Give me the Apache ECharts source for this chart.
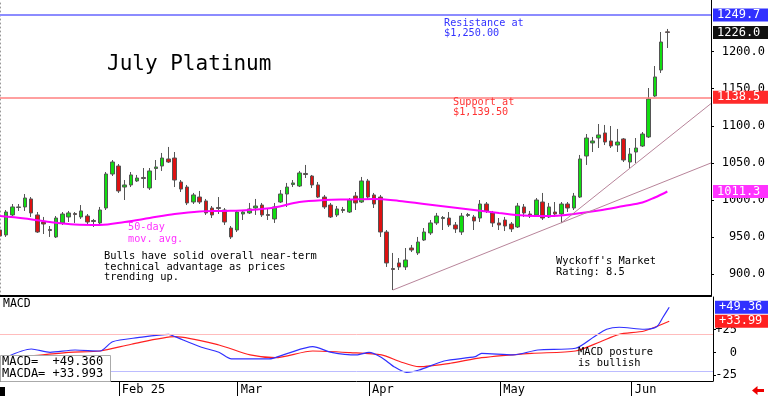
<!DOCTYPE html>
<html><head><meta charset="utf-8">
<script src="https://cdn.jsdelivr.net/npm/echarts@6/dist/echarts.min.js"></script>
<style>html,body{margin:0;padding:0;background:#fff}#c{width:768px;height:396px}</style>
</head><body><div id="c"></div>
<script>
// ---- data ----
const opens = [959.3,952.6,979.6,989.7,990.4,1001.2,979.6,970.1,960.0,949.9,968.8,976.9,981.6,976.9,978.2,972.1,968.8,989.0,1034.9,1045.7,
1017.3,1020.1,1025.5,1030.2,1016.0,1042.3,1045.7,1055.2,1056.5,1024.1,1017.3,997.1,1003.8,998.5,989.0,989.7,986.3,962.0,959.3,980.9,
982.3,989.0,993.0,980.2,974.2,997.1,1007.9,1020.7,1018.7,1035.6,1032.2,1020.1,1003.8,993.0,979.6,987.0,983.6,1005.2,997.1,1025.5,
1006.6,1003.8,956.6,907.3,914.8,909.4,935.0,928.3,945.8,955.3,968.8,974.8,975.5,966.1,956.6,978.9,976.9,975.5,994.4,982.3,
968.8,972.8,967.4,963.4,990.4,980.9,979.6,997.1,976.9,983.6,980.9,994.4,989.0,1003.8,1059.2,1076.8,1083.5,1090.3,1079.5,1074.0,
1082.2,1051.1,1064.6,1072.7,1084.9,1140.2,1175.3,1226.8];
const closes = [951.2,983.6,990.4,990.4,1002.5,982.3,956.6,967.4,958.6,975.5,980.9,982.3,980.2,985.0,970.1,970.8,986.3,1034.9,1051.1,1012.0,
1020.1,1033.6,1029.5,1028.8,1039.0,1044.4,1056.5,1051.1,1026.8,1014.6,995.8,1006.6,997.1,982.3,979.6,988.3,970.1,949.9,983.6,983.6,
987.7,991.7,979.6,978.9,990.4,1007.9,1017.3,1022.8,1036.3,1034.2,1020.1,1003.8,990.4,976.9,987.7,985.6,999.8,995.8,1025.5,1003.8,
994.4,956.6,914.8,906.0,909.4,918.8,932.3,943.1,956.6,968.8,978.2,976.2,966.1,960.7,978.2,980.2,971.5,994.4,985.0,968.8,
966.1,964.7,960.7,991.7,982.3,978.2,999.8,975.5,990.4,980.9,994.4,989.0,1005.2,1055.2,1083.5,1079.5,1087.6,1078.1,1072.7,1078.1,
1053.8,1061.9,1070.0,1088.9,1136.2,1165.9,1213.1,1226.0];
const lows = [948.5,949.9,978.2,985.0,985.0,976.9,955.3,953.9,949.9,948.5,966.1,970.1,968.8,974.2,967.4,963.4,966.1,986.3,1032.2,1009.3,
999.8,1017.3,1024.1,1016.0,1013.3,1026.8,1039.0,1049.8,1017.3,1010.6,993.0,994.4,994.4,979.6,975.5,980.9,966.1,947.2,956.6,972.8,
980.9,979.6,976.9,972.8,968.8,995.8,990.4,1017.3,1017.3,1029.5,1016.0,1002.5,987.7,975.5,976.9,982.3,982.3,986.3,995.8,1001.2,
989.0,949.9,909.4,878.3,905.3,905.3,929.6,925.6,944.5,952.6,966.1,959.3,963.4,955.3,952.6,976.9,959.3,970.1,982.3,963.4,
959.3,957.9,956.6,962.0,976.9,975.5,976.9,972.8,975.5,976.9,968.8,983.6,986.3,1002.5,1047.1,1064.6,1070.0,1074.0,1070.0,1064.6,
1051.1,1043.0,1049.8,1071.4,1083.5,1138.9,1171.3,1205.0];
const highs = [970.1,986.3,994.4,994.4,1007.9,1003.8,983.6,976.9,964.7,978.2,983.6,985.0,983.6,993.0,980.9,974.2,990.4,1037.6,1053.8,1048.4,
1026.8,1037.6,1033.6,1043.0,1043.0,1053.8,1063.3,1071.4,1064.6,1026.8,1020.1,1009.3,1012.0,1001.2,991.7,1003.8,989.0,964.7,986.3,986.3,
995.8,1001.2,995.8,989.0,995.8,1013.3,1022.8,1026.8,1039.0,1047.1,1033.6,1024.1,1006.6,995.8,991.7,990.4,1002.5,1010.6,1030.9,1028.2,
1009.3,1006.6,959.3,928.3,921.5,935.0,939.1,949.9,962.0,972.8,982.3,978.2,983.6,970.1,982.3,982.3,979.6,999.8,997.1,985.0,
975.5,976.9,970.1,995.8,994.4,985.0,1002.5,1009.3,995.8,997.1,997.1,997.1,1009.3,1060.6,1088.9,1084.9,1102.4,1101.1,1099.7,1095.7,
1083.5,1070.0,1083.5,1091.6,1151.0,1180.7,1226.6,1230.7];

// 50-day moving average, read at sampled candle positions
const maIdx = [0,4,8,12,16,20,24,28,32,36,40,44,48,52,56,60,64,68,72,76,80,84,88,92,96,100,103,105,107];
const maVal = [978.2,974.8,970.1,966.7,966.1,970.1,975.5,980.9,984.3,985.0,986.3,989.7,997.1,999.8,1000.5,1001.2,998.5,994.4,990.4,986.3,
982.3,978.9,978.2,980.9,985.6,991.7,996.4,1003.2,1011.3];

// MACD (blue) and signal MACDA (red), read at sampled positions
const macdIdx = [1,5,8,12,16,18,22,27,28,32,35,37,43,46,50,53,57,59,61,63,65,67,71,76,77,82,86,92,95,97,99,103,105,106,107];
const macdVal = [-5,3.7,0.1,2.6,1.5,11.7,16.1,19.8,17.2,6.2,0.1,-7.2,-7.2,-1,6.2,0.1,-2.8,0.1,-5.5,-15.6,-21.8,-19.3,-9.4,-4.7,-1,-2.8,2.6,4.5,17.2,25.3,27.5,25.3,28.1,38.5,49.36];
const sigIdx = [2,5,11,16,21,28,35,40,44,50,56,61,64,67,72,77,85,92,96,99,103,107];
const sigVal = [-4.7,-3.9,0.1,1.5,8.9,17.2,8.1,-2.8,-5.8,1.5,-0.3,-2.8,-10.2,-15.6,-11.9,-5.8,-1,1.5,11.7,19.8,23.4,33.99];

const trendA = [[63,878.3],[114,1049.8]];
const trendB = [[90,968.8],[114,1130.0]];

const resistance = 1249.7, support = 1138.5, lastClose = 1226.0, maLast = 1011.3;
const macdLast = 49.36, sigLast = 33.99, macdUpper = 20, macdLower = -21;
const macdLegend = '+49.360', sigLegend = '+33.993';

const yTicks = [900,950,1000,1050,1100,1150,1200];
const macdTicks = [-25,0,25];
const tickDates = ['2025-02-03','2025-03-03','2025-04-01','2025-05-01','2025-06-02'];
const tickLabels = ['Feb 25','Mar','Apr','May','Jun'];
const holidays = ['2025-01-20','2025-02-17','2025-04-18','2025-05-26','2025-06-19'];
const firstDay = '2025-01-06';
const totalSlots = 115;

// trading-day categories
const cats = [];
{
  const d = new Date(firstDay + 'T00:00:00Z');
  while (cats.length < totalSlots) {
    const s = d.toISOString().slice(0,10);
    const wd = d.getUTCDay();
    if (wd !== 0 && wd !== 6 && holidays.indexOf(s) < 0) cats.push(s);
    d.setUTCDate(d.getUTCDate() + 1);
  }
}
const candles = opens.map((o,i)=>[o, closes[i], lows[i], highs[i]]);
const pair = (xs, vs) => xs.map((x,i)=>[x, vs[i]]);

const MONO = '"DejaVu Sans Mono", monospace';
const HIDDEN = {color:'rgba(0,0,0,0)', width:1};
function boxLabel(bg, fmt){
  return {show:true, position:'end', distance:2, formatter:fmt, color:'#fff', backgroundColor:bg,
    padding:[1,8,0,4], fontFamily:MONO, fontSize:12};
}

const chart = echarts.init(document.getElementById('c'), null, {renderer:'canvas'});
const isTick = (idx, val) => tickDates.indexOf(val) >= 0;

chart.setOption({
  animation:false,
  backgroundColor:'#fff',
  grid:[
    {left:0, right:55, top:0, height:296},
    {left:0, right:55, top:297, height:84}
  ],
  xAxis:[
    {gridIndex:0, type:'category', data:cats, boundaryGap:false,
      axisLine:{show:true, onZero:false, lineStyle:{color:'#000', width:2}}, axisTick:{show:false}, axisLabel:{show:false}, splitLine:{show:false}},
    {gridIndex:1, type:'category', data:cats, boundaryGap:false,
      axisLine:{show:true, onZero:false, lineStyle:{color:'#000', width:1}},
      axisTick:{show:true, interval:isTick, length:15, lineStyle:{color:'#000'}},
      axisLabel:{show:true, interval:isTick, formatter:v=>tickLabels[tickDates.indexOf(v)], align:'left',
        padding:[0,0,0,3], margin:3, color:'#000', fontFamily:MONO, fontSize:12},
      splitLine:{show:false}}
  ],
  yAxis:[
    {gridIndex:0, type:'value', position:'right', min:870.2, max:1269.8, scale:true,
      axisLine:{show:true, lineStyle:{color:'#000'}},
      axisTick:{show:true, customValues:yTicks, length:3, lineStyle:{color:'#000'}},
      axisLabel:{show:true, customValues:yTicks, formatter:v=>v.toFixed(1), align:'right', margin:54,
        color:'#000', fontFamily:MONO, fontSize:12},
      splitLine:{show:false}},
    {gridIndex:0, type:'value', position:'left', min:870.2, max:1269.8,
      axisLine:{show:true, lineStyle:{color:'#999', type:[1,3]}}, axisTick:{show:false}, axisLabel:{show:false}, splitLine:{show:false}},
    {gridIndex:1, type:'value', position:'right', min:-31.3, max:60.6,
      axisLine:{show:true, lineStyle:{color:'#000'}},
      axisTick:{show:true, customValues:macdTicks, length:3, lineStyle:{color:'#000'}},
      axisLabel:{show:true, customValues:macdTicks, formatter:v=>(v>0?'+':'')+v, align:'right', margin:24,
        color:'#000', fontFamily:MONO, fontSize:12},
      splitLine:{show:false}}
  ],
  series:[
    {type:'candlestick', xAxisIndex:0, yAxisIndex:0, data:candles, barWidth:4, clip:true,
      itemStyle:{color:'#11dd11', color0:'#dd1111', borderColor:'#555', borderColor0:'#555', borderWidth:1},
      markLine:{silent:true, symbol:'none', animation:false, data:[
        {yAxis:resistance, lineStyle:{color:'#8c8cff', width:2, type:'solid'}, label:boxLabel('#3030ff', p=>p.value.toFixed(1))},
        {yAxis:support, lineStyle:{color:'#ff8080', width:1.5, type:'solid'}, label:boxLabel('#ff2a2a', p=>p.value.toFixed(1))},
        {yAxis:lastClose, lineStyle:HIDDEN, label:boxLabel('#111', p=>p.value.toFixed(1))}
      ]}},
    {type:'line', xAxisIndex:0, yAxisIndex:0, data:pair(maIdx, maVal), smooth:0.35, symbol:'none',
      lineStyle:{color:'#ff00ff', width:2}, z:3,
      markLine:{silent:true, symbol:'none', data:[
        {yAxis:maLast, lineStyle:HIDDEN, label:boxLabel('#ff33ff', p=>p.value.toFixed(1))}
      ]}},
    {type:'line', xAxisIndex:0, yAxisIndex:0, data:trendA, symbol:'none', lineStyle:{color:'#b8849a', width:1}, z:4},
    {type:'line', xAxisIndex:0, yAxisIndex:0, data:trendB, symbol:'none', lineStyle:{color:'#b8849a', width:1}, z:4},
    {type:'line', xAxisIndex:1, yAxisIndex:2, data:pair(macdIdx, macdVal), smooth:0.25, symbol:'none',
      lineStyle:{color:'#3030ff', width:1.2}, z:4,
      markLine:{silent:true, symbol:'none', data:[
        {yAxis:macdUpper, lineStyle:{color:'#ffbcbc', width:1, type:'solid'}, label:{show:false}},
        {yAxis:macdLower, lineStyle:{color:'#bcbcff', width:1, type:'solid'}, label:{show:false}},
        {yAxis:macdLast, lineStyle:HIDDEN, label:boxLabel('#3030ff', p=>'+'+p.value.toFixed(2))}
      ]}},
    {type:'line', xAxisIndex:1, yAxisIndex:2, data:pair(sigIdx, sigVal), smooth:0.25, symbol:'none',
      lineStyle:{color:'#ff2020', width:1.2}, z:3,
      markLine:{silent:true, symbol:'none', data:[
        {yAxis:sigLast, lineStyle:HIDDEN, label:boxLabel('#ff2020', p=>'+'+p.value.toFixed(2))}
      ]}}
  ],
  graphic:[
    {type:'text', x:107, y:54, z:50, style:{text:'July Platinum', fill:'#000', font:'21px '+MONO, verticalAlign:'top'}},
    {type:'text', x:444, y:18, z:50, style:{text:'Resistance at\n$1,250.00', fill:'#3333ff', font:'10.2px '+MONO, lineHeight:10, verticalAlign:'top'}},
    {type:'text', x:453, y:97, z:50, style:{text:'Support at\n$1,139.50', fill:'#ff3333', font:'10.2px '+MONO, lineHeight:10, verticalAlign:'top'}},
    {type:'text', x:128, y:222, z:50, style:{text:'50-day\nmov. avg.', fill:'#ff33ff', font:'10.2px '+MONO, lineHeight:11.5, verticalAlign:'top'}},
    {type:'text', x:104, y:251, z:50, style:{text:'Bulls have solid overall near-term\ntechnical advantage as prices\ntrending up.', fill:'#000', font:'10.4px '+MONO, lineHeight:10.7, verticalAlign:'top'}},
    {type:'text', x:556, y:256, z:50, style:{text:"Wyckoff's Market\nRating: 8.5", fill:'#000', font:'10.4px '+MONO, lineHeight:11, verticalAlign:'top'}},
    {type:'text', x:3, y:298, z:50, style:{text:'MACD', fill:'#000', font:'11.5px '+MONO, verticalAlign:'top'}},
    {type:'text', x:578, y:347, z:50, style:{text:'MACD posture\nis bullish', fill:'#000', font:'10.4px '+MONO, lineHeight:11, verticalAlign:'top'}},
    {type:'rect', z:60, shape:{x:0.5, y:355.5, width:110, height:26}, style:{fill:'#fff', stroke:'#aaa', lineWidth:1}},
    {type:'text', x:2, y:356, z:61, style:{text:'MACD=  '+macdLegend+'\nMACDA= '+sigLegend, fill:'#000', font:'12px '+MONO, lineHeight:12, verticalAlign:'top'}},
    {type:'rect', z:60, shape:{x:0, y:387, width:5, height:9}, style:{fill:'#000'}},
    {type:'polygon', z:60, shape:{points:[[752,390.5],[757.5,386],[757.5,389],[764,389],[764,392],[757.5,392],[757.5,395]]}, style:{fill:'#ee0000'}}
  ]
});
</script>
</body></html>
